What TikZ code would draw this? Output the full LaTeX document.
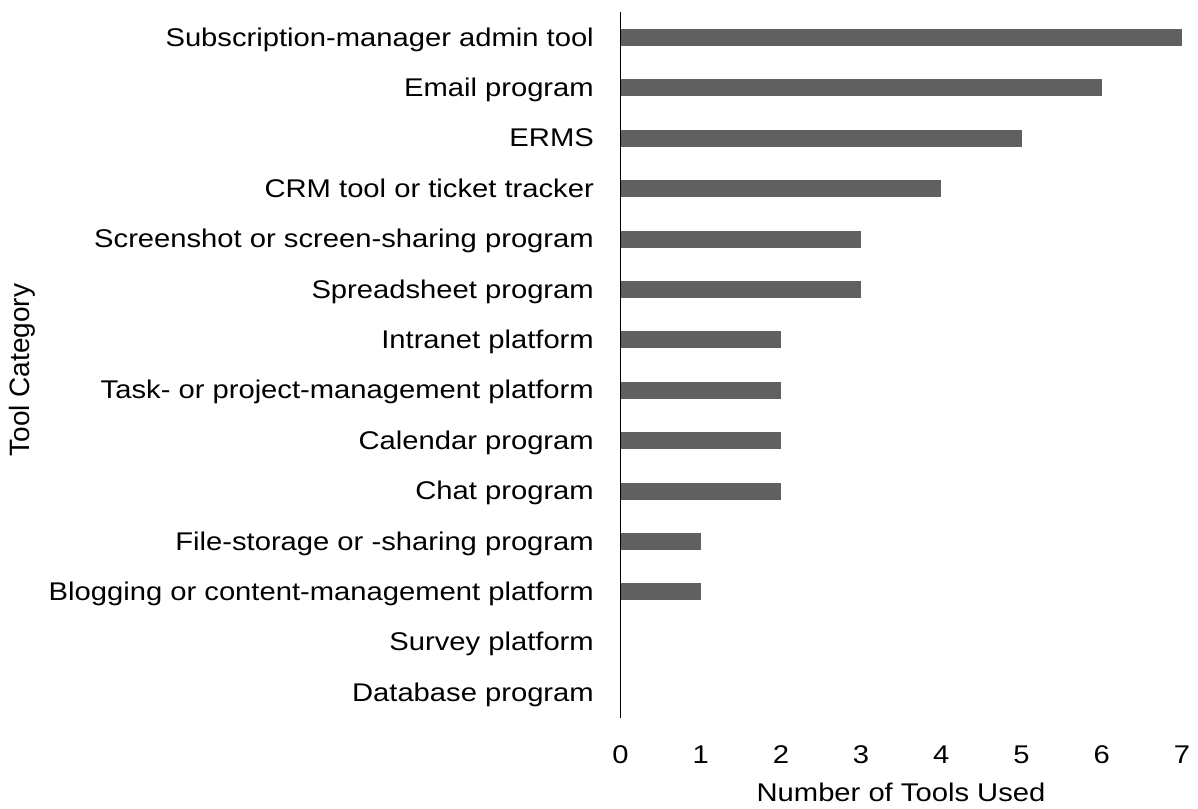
\documentclass[tikz,border=0pt]{standalone}
\usepackage{fontspec}
\setmainfont{Liberation Sans}
\definecolor{barc}{RGB}{96,96,96}
\newcommand{\hs}[1]{\scalebox{1.14}[1]{#1}}
\begin{document}
\begin{tikzpicture}[x=1pt,y=-1pt,
  lab/.style={font=\fontsize{25.6}{30}\selectfont, inner sep=0pt, anchor=base east},
  ticklab/.style={font=\fontsize{25.6}{30}\selectfont, inner sep=0pt, anchor=base},
  axisline/.style={draw=black, line width=1.8pt},
  barfill/.style={fill=barc, draw=none}]
\useasboundingbox (0,0) rectangle (1198,808);
\foreach \lbl/\v [count=\i from 0] in {
  Subscription-manager admin tool/7,
  Email program/6,
  ERMS/5,
  CRM tool or ticket tracker/4,
  Screenshot or screen-sharing program/3,
  Spreadsheet program/3,
  Intranet platform/2,
  Task- or project-management platform/2,
  Calendar program/2,
  Chat program/2,
  File-storage or -sharing program/1,
  Blogging or content-management platform/1,
  Survey platform/0,
  Database program/0}{
  \pgfmathsetmacro{\yc}{37.5+50.4*\i}
  \node[lab] (c\i) at (594,\yc+8.5) {\hs{\lbl}};
  \ifnum\v>0
    \fill[barfill] (620.5,\yc-8.5) rectangle (620.5+80.2*\v,\yc+8.5);
  \fi
}
\coordinate (atop) at (620.5,12);
\coordinate (abot) at (620.5,717.5);
\draw[axisline] (atop) -- (abot);
\foreach \k in {0,...,7}
  \node[ticklab] (t\k) at (620.5+80.2*\k,763.3) {\hs{\k}};
\node[ticklab] (xtitle) at (901,801.7) {\hs{Number of Tools Used}};
\node[font=\fontsize{28}{32}\selectfont, inner sep=0pt, rotate=90] (ytitle) at (22,370) {Tool Category};
\end{tikzpicture}
\end{document}
